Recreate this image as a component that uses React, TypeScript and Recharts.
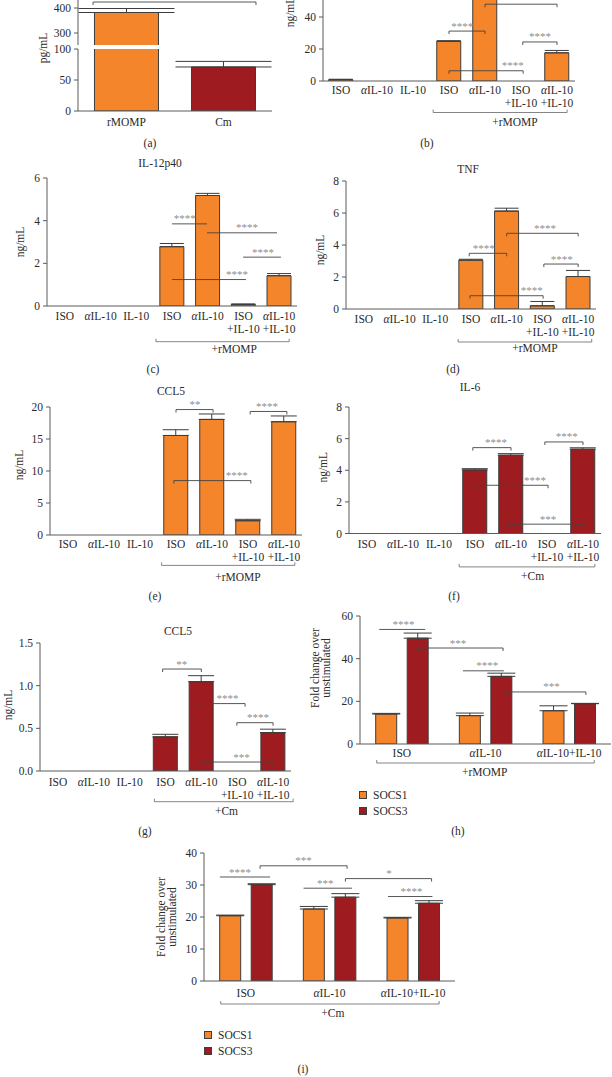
import React from 'react';
import { BarChart, Bar, XAxis, YAxis, ErrorBar, ReferenceLine, ReferenceDot, Legend } from 'recharts';

const FONT = '"Liberation Serif", "DejaVu Serif", serif';
const ORANGE = '#F4852A';
const RED = '#9E1B1F';
const EDGE = '#3d3d3d';
const AXIS = '#5a5a5a';
const TXT = '#2b2b2b';
const STAR = '#8e8e8e';
const FS = 11.5;

// chart frame around each plot area
const YW = 60;
const MT = 30;
const MR = 12;
const XH = 50;

// ---- categories ----
const catsA = ['rMOMP', 'Cm'];
const cats7 = ['ISO', 'αIL-10', 'IL-10', 'ISO', 'αIL-10', 'ISO\n+IL-10', 'αIL-10\n+IL-10'];
const cats3 = ['ISO', 'αIL-10', 'αIL-10+IL-10'];

// ---- values (mean, upper error) ----
const aVals = [382, 71];
const aErr = [16, 9];
const bVals = [0.8, null, null, 24.8, 54, null, 17.6];
const bErr = [0.3, null, null, 0.4, 2, null, 1.5];
const cVals = [null, null, null, 2.78, 5.18, 0.07, 1.42];
const cErr = [null, null, null, 0.15, 0.1, 0.03, 0.1];
const dVals = [null, null, null, 3.05, 6.12, 0.2, 2.03];
const dErr = [null, null, null, 0.06, 0.18, 0.27, 0.38];
const eVals = [null, null, null, 15.55, 18.06, 2.23, 17.7];
const eErr = [null, null, null, 0.9, 0.85, 0.22, 0.9];
const fVals = [null, null, null, 4.02, 4.95, null, 5.33];
const fErr = [null, null, null, 0.08, 0.1, null, 0.09];
const gVals = [null, null, null, 0.4, 1.047, null, 0.45];
const gErr = [null, null, null, 0.03, 0.07, null, 0.04];
const hSocs1 = [14.05, 13.3, 15.6];
const hSocs1Err = [0.3, 1.2, 2.3];
const hSocs3 = [49.6, 31.7, 18.9];
const hSocs3Err = [2.4, 1.5, 0.15];
const iSocs1 = [20.4, 22.5, 19.7];
const iSocs1Err = [0.2, 0.8, 0.2];
const iSocs3 = [30.1, 26.2, 24.3];
const iSocs3Err = [0.3, 1.1, 0.8];

type Br = { x1: number; x2: number; y: number; s: string; lx: number; tk: boolean };
type Grp = { x1: number; x2: number; s: string; lx: number };
const br = (x1: number, x2: number, y: number, s: string, lx: number, tk = true): Br => ({ x1, x2, y, s, lx, tk });

// ---- significance brackets (x in category index units) ----
const aBr = [br(-0.345, 1.335, 424, '')];
const bBr = [br(3, 4, 31.2, '****', 3.37), br(4, 6, 48, '****', 5.2), br(5.05, 6, 24.4, '****', 5.53), br(3, 5.06, 6.4, '****', 4.77)];
const cBr = [br(3, 3.98, 3.85, '****', 3.36, false), br(3.98, 5.94, 3.43, '****', 5.1, false), br(4.99, 6.05, 2.29, '****', 5.55, false), br(3, 5.07, 1.24, '****', 4.82, false)];
const dBr = [br(2.95, 4, 3.48, '****', 3.36), br(4, 6, 4.73, '****', 5.07), br(5.04, 6, 2.81, '****', 5.54), br(2.97, 5.02, 0.83, '****', 4.7)];
const eBr = [br(3, 4.03, 19.6, '**', 3.53), br(5.06, 6.08, 19.3, '****', 5.53), br(2.94, 5.08, 8.5, '****', 4.69)];
const fBr = [br(2.94, 4, 5.43, '****', 3.58), br(4.94, 6, 5.79, '****', 5.55), br(2.97, 5.03, 3.05, '****', 4.67), br(3.92, 6, 0.59, '***', 5.03)];
const gBr = [br(2.92, 4, 1.195, '**', 3.45), br(3.9, 5.22, 0.79, '****', 4.73), br(4.99, 6, 0.566, '****', 5.58), br(3.99, 6, 0.105, '***', 5.12)];
const hBr = [br(-0.27, 0.28, 53.7, '****', 0.02, false), br(0.2, 1.21, 45, '***', 0.67), br(0.73, 1.22, 34.3, '****', 1.02, false), br(1.25, 2.2, 24.4, '***', 1.79)];
const iBr = [br(-0.31, 0.29, 32.5, '****', -0.07, false), br(0.17, 1.21, 36, '***', 0.69), br(0.69, 1.27, 29, '***', 0.95, false), br(1.19, 2.22, 32, '*', 1.71), br(1.7, 2.23, 26.4, '****', 1.98, false)];

// ---- treatment groups under the axis ----
const bGrp: Grp = { x1: 2.56, x2: 6.28, s: '+rMOMP', lx: 4.83 };
const cGrp: Grp = { x1: 2.55, x2: 6.28, s: '+rMOMP', lx: 4.74 };
const dGrp: Grp = { x1: 2.64, x2: 6.38, s: '+rMOMP', lx: 4.79 };
const eGrp: Grp = { x1: 2.6, x2: 6.3, s: '+rMOMP', lx: 4.72 };
const fGrp: Grp = { x1: 2.56, x2: 6.33, s: '+Cm', lx: 4.6 };
const gGrp: Grp = { x1: 2.69, x2: 6.56, s: '+Cm', lx: 4.7 };
const hGrp: Grp = { x1: -0.3, x2: 2.3, s: '+rMOMP', lx: 0.99 };
const iGrp: Grp = { x1: -0.3, x2: 2.31, s: '+Cm', lx: 1.04 };

type Series = { key: string; name: string; color: string; vals: (number | null)[]; err: (number | null)[] };
type Box = { x: number; y: number; w: number; h: number };

const rich = (s: string) =>
  s.startsWith('α') ? [<tspan key="a" fontStyle="italic">α</tspan>, s.slice(1)] : s;

function CatTick(props: any) {
  const { x, y, payload, labels, dy } = props;
  const i = Number(String(payload.value).slice(1));
  const lines = String(labels[i] ?? '').split('\n');
  return (
    <text x={x} y={y + dy + 4} textAnchor="middle" fontSize={FS} fontFamily={FONT} fill={TXT}>
      {lines.map((l, j) => (
        <tspan key={j} x={x} dy={j === 0 ? 0 : 13}>
          {rich(l)}
        </tspan>
      ))}
    </text>
  );
}

function YLab({ vb, lines, dist, dy }: { vb: any; lines: string[]; dist: number; dy: number }) {
  if (!vb) return null;
  const cx = vb.x + vb.width - dist;
  const cy = vb.y + vb.height / 2 + dy;
  const first = -((lines.length - 1) * 11) / 2;
  return (
    <text transform={`rotate(-90 ${cx} ${cy})`} x={cx} y={cy} textAnchor="middle" fontSize={FS} fontFamily={FONT} fill={TXT}>
      {lines.map((l, j) => (
        <tspan key={j} x={cx} dy={j === 0 ? first + 4 : 11}>
          {l}
        </tspan>
      ))}
    </text>
  );
}

function LegendBox({ series }: { series: Series[] }) {
  return (
    <div style={{ fontFamily: FONT, fontSize: FS, color: TXT }}>
      {series.map((s) => (
        <div key={s.key} style={{ display: 'flex', alignItems: 'center', height: 16 }}>
          <span style={{ display: 'inline-block', width: 6, height: 6, background: s.color, border: `1px solid ${EDGE}`, marginRight: 6 }} />
          <span>{s.name}</span>
        </div>
      ))}
    </div>
  );
}

type PanelProps = {
  box: Box;
  dom: [number, number];
  ticks: number[];
  cats: string[];
  series: Series[];
  catGap: string;
  barGap?: number;
  capW: number;
  brs: Br[];
  grp?: Grp;
  grpDy?: number;
  grpLy?: number;
  xdy?: number;
  ylab?: string[];
  ydist?: number;
  ydy?: number;
  fmt?: (v: number) => string;
  legend?: { left: number; top: number };
};

function Panel(p: PanelProps) {
  const ppu = p.box.h / (p.dom[1] - p.dom[0]);
  const u = (px: number) => px / ppu;
  const base = p.dom[0];
  const n = p.cats.length;
  const data = p.cats.map((_, i) => {
    const row: Record<string, any> = { k: 'k' + i, i };
    p.series.forEach((s) => {
      row[s.key] = s.vals[i];
      const e = s.err[i];
      row[s.key + 'E'] = e == null ? null : [0, e];
    });
    return row;
  });

  const seg = (key: string, x1: number, y1: number, x2: number, y2: number, stroke = '#444', w = 0.9) => (
    <ReferenceLine key={key} xAxisId="n" segment={[{ x: x1, y: y1 }, { x: x2, y: y2 }]} stroke={stroke} strokeWidth={w} ifOverflow="visible" />
  );
  const refs: React.ReactNode[] = [];
  p.brs.forEach((b, i) => {
    refs.push(seg('h' + i, b.x1, b.y, b.x2, b.y));
    if (b.tk) {
      refs.push(seg('l' + i, b.x1, b.y, b.x1, b.y - u(3)));
      refs.push(seg('r' + i, b.x2, b.y, b.x2, b.y - u(3)));
    }
    if (b.s)
      refs.push(
        <ReferenceDot
          key={'s' + i}
          xAxisId="n"
          x={b.lx}
          y={b.y}
          r={1}
          ifOverflow="visible"
          shape={(sp: any) => (
            <text x={sp.cx} y={sp.cy - 1.5} textAnchor="middle" fontSize={11} fontFamily={FONT} fill={STAR}>
              {b.s}
            </text>
          )}
        />,
      );
  });
  if (p.grp) {
    const g = p.grp;
    const gy = base - u(p.grpDy ?? 30);
    refs.push(seg('g', g.x1, gy, g.x2, gy, '#666', 0.8));
    refs.push(seg('gl', g.x1, gy, g.x1, gy + u(3), '#666', 0.8));
    refs.push(seg('gr', g.x2, gy, g.x2, gy + u(3), '#666', 0.8));
    refs.push(
      <ReferenceDot
        key="gt"
        xAxisId="n"
        x={g.lx}
        y={base - u(p.grpLy ?? 40)}
        r={1}
        ifOverflow="visible"
        shape={(sp: any) => (
          <text x={sp.cx} y={sp.cy + 4} textAnchor="middle" fontSize={FS} fontFamily={FONT} fill={TXT}>
            {g.s}
          </text>
        )}
      />,
    );
  }

  return (
    <div style={{ position: 'absolute', left: p.box.x - YW, top: p.box.y - MT }}>
      <BarChart
        width={YW + p.box.w + MR}
        height={MT + p.box.h + XH}
        data={data}
        margin={{ top: MT, right: MR, left: 0, bottom: 0 }}
        barCategoryGap={p.catGap}
        barGap={p.barGap ?? 4}
      >
        <XAxis
          xAxisId="c"
          dataKey="k"
          height={XH}
          interval={0}
          axisLine={{ stroke: AXIS }}
          tickLine={false}
          tickSize={0}
          tickMargin={0}
          tick={<CatTick labels={p.cats} dy={p.xdy ?? 10} />}
        />
        <XAxis xAxisId="n" dataKey="i" type="number" domain={[-0.5, n - 0.5]} hide allowDataOverflow />
        <YAxis
          width={YW}
          domain={p.dom}
          ticks={p.ticks}
          allowDataOverflow
          interval={0}
          tickFormatter={p.fmt}
          axisLine={{ stroke: AXIS }}
          tickLine={{ stroke: AXIS }}
          tickSize={4}
          tickMargin={3}
          tick={{ fontSize: FS, fontFamily: FONT, fill: TXT }}
          label={p.ylab ? { content: (lp: any) => <YLab vb={lp.viewBox} lines={p.ylab!} dist={p.ydist ?? 30} dy={p.ydy ?? 0} /> } : undefined}
        />
        {p.series.map((s) => (
          <Bar key={s.key} xAxisId="c" dataKey={s.key} name={s.name} fill={s.color} stroke={EDGE} strokeWidth={1} isAnimationActive={false}>
            <ErrorBar dataKey={s.key + 'E'} width={p.capW} stroke={EDGE} strokeWidth={1} isAnimationActive={false} />
          </Bar>
        ))}
        {refs}
        {p.legend && (
          <Legend
            layout="vertical"
            align="center"
            verticalAlign="middle"
            wrapperStyle={{ left: p.legend.left, top: p.legend.top, width: 'auto', height: 'auto', right: 'auto', bottom: 'auto' }}
            content={() => <LegendBox series={p.series} />}
          />
        )}
      </BarChart>
    </div>
  );
}

const one = (color: string, vals: (number | null)[], err: (number | null)[]): Series[] => [
  { key: 'v', name: 'v', color, vals, err },
];
const two = (s1: number[], e1: number[], s3: number[], e3: number[]): Series[] => [
  { key: 's1', name: 'SOCS1', color: ORANGE, vals: s1, err: e1 },
  { key: 's3', name: 'SOCS3', color: RED, vals: s3, err: e3 },
];

const pageTexts = [
  { t: '(a)', x: 150, y: 144 },
  { t: '(b)', x: 427, y: 144 },
  { t: 'IL-12p40', x: 160, y: 164 },
  { t: 'TNF', x: 468, y: 170 },
  { t: '(c)', x: 153, y: 370 },
  { t: '(d)', x: 453, y: 370 },
  { t: 'CCL5', x: 171, y: 392 },
  { t: 'IL-6', x: 470, y: 388 },
  { t: '(e)', x: 155, y: 597 },
  { t: '(f)', x: 454, y: 597 },
  { t: 'CCL5', x: 178, y: 632 },
  { t: '(g)', x: 145, y: 832 },
  { t: '(h)', x: 458, y: 832 },
  { t: '(i)', x: 303, y: 1070 },
];

const A_UP: [number, number] = [252, 472];
const A_LO: [number, number] = [0, 100];
const aColors = [ORANGE, RED];

export default function App() {
  // panel (a) has a broken axis: the upper part keeps only bars that reach it
  const aUpVals = aVals.map((v) => (v > A_UP[0] ? v : null));
  const aUpErr = aErr.map((e, i) => (aVals[i] > A_UP[0] ? e : null));
  const aLoErr = aErr.map((e, i) => (aVals[i] > A_LO[1] ? null : e));
  return (
    <div style={{ position: 'absolute', left: 0, top: 0, width: 612, height: 1077, overflow: 'hidden', background: '#fff' }}>
      <style>{`.recharts-surface{overflow:visible}`}</style>
      <PanelA box={{ x: 78, y: -10, w: 194, h: 55 }} dom={A_UP} ticks={[300, 400]} vals={aUpVals} err={aUpErr} upper brs={aBr} />
      <PanelA box={{ x: 78, y: 49, w: 194, h: 62 }} dom={A_LO} ticks={[0, 50, 100]} vals={aVals} err={aLoErr} brs={[]} />
      <Panel box={{ x: 323, y: -15, w: 252, h: 96 }} dom={[0, 60]} ticks={[0, 20, 40, 60]} cats={cats7} series={one(ORANGE, bVals, bErr)} catGap="16%" capW={12} brs={bBr} grp={bGrp} grpDy={31.5} grpLy={41} xdy={9} ylab={['ng/mL']} ydist={33} ydy={-21} />
      <Panel box={{ x: 47, y: 178, w: 250, h: 128 }} dom={[0, 6]} ticks={[0, 2, 4, 6]} cats={cats7} series={one(ORANGE, cVals, cErr)} catGap="16%" capW={12} brs={cBr} grp={cGrp} grpDy={35.7} grpLy={43} ylab={['ng/mL']} ydist={27} />
      <Panel box={{ x: 346, y: 181, w: 250, h: 128 }} dom={[0, 8]} ticks={[0, 2, 4, 6, 8]} cats={cats7} series={one(ORANGE, dVals, dErr)} catGap="16%" capW={12} brs={dBr} grp={dGrp} grpDy={33} grpLy={39} ylab={['ng/mL']} ydist={26} ydy={5} />
      <Panel box={{ x: 50, y: 407, w: 252, h: 128 }} dom={[0, 20]} ticks={[0, 5, 10, 15, 20]} cats={cats7} series={one(ORANGE, eVals, eErr)} catGap="16%" capW={13} brs={eBr} grp={eGrp} grpDy={30.4} grpLy={42.4} xdy={8.5} ylab={['ng/mL']} ydist={31} ydy={-6} />
      <Panel box={{ x: 349, y: 407, w: 252, h: 126.5 }} dom={[0, 8]} ticks={[0, 2, 4, 6, 8]} cats={cats7} series={one(RED, fVals, fErr)} catGap="16%" capW={13} brs={fBr} grp={fGrp} grpDy={33.4} grpLy={42.7} ylab={['ng/mL']} ydist={26} ydy={-3} />
      <Panel box={{ x: 40, y: 643, w: 251, h: 128 }} dom={[0, 1.5]} ticks={[0, 0.5, 1, 1.5]} fmt={(v) => v.toFixed(1)} cats={cats7} series={one(RED, gVals, gErr)} catGap="16%" capW={13} brs={gBr} grp={gGrp} grpDy={30.7} grpLy={39.7} xdy={11} ylab={['ng/mL']} ydist={32} ydy={-2} />
      <Panel box={{ x: 360, y: 616, w: 251, h: 128 }} dom={[0, 60]} ticks={[0, 20, 40, 60]} cats={cats3} series={two(hSocs1, hSocs1Err, hSocs3, hSocs3Err)} catGap="18.75%" barGap={10.5} capW={14} brs={hBr} grp={hGrp} grpDy={19} grpLy={28} xdy={9} ylab={['Fold change over', 'unstimulated']} ydist={39.5} ydy={-12} legend={{ left: 59, top: 201 }} />
      <Panel box={{ x: 204, y: 853, w: 251, h: 128 }} dom={[0, 40]} ticks={[0, 10, 20, 30, 40]} cats={cats3} series={two(iSocs1, iSocs1Err, iSocs3, iSocs3Err)} catGap="18.75%" barGap={10.5} capW={14} brs={iBr} grp={iGrp} grpDy={23} grpLy={31.7} xdy={12} ylab={['Fold change over', 'unstimulated']} ydist={37.3} legend={{ left: 60, top: 204 }} />
      {pageTexts.map((t, i) => (
        <div key={i} style={{ position: 'absolute', left: t.x, top: t.y, transform: 'translate(-50%, -50%)', fontFamily: FONT, fontSize: FS, color: TXT, whiteSpace: 'nowrap', lineHeight: 1 }}>
          {t.t}
        </div>
      ))}
    </div>
  );
}

// one half of panel (a); each category keeps its own colour, and no edge is drawn where the axis breaks
function PanelA({ box, dom, ticks, vals, err, upper, brs }: { box: Box; dom: [number, number]; ticks: number[]; vals: (number | null)[]; err: (number | null)[]; upper?: boolean; brs: Br[] }) {
  const ppu = box.h / (dom[1] - dom[0]);
  const u = (px: number) => px / ppu;
  const data = catsA.map((_, i) => ({ k: 'k' + i, i, v: vals[i], vE: err[i] == null ? null : [0, err[i]] }));
  const refs: React.ReactNode[] = [];
  brs.forEach((b, i) => {
    refs.push(<ReferenceLine key={'h' + i} xAxisId="n" segment={[{ x: b.x1, y: b.y }, { x: b.x2, y: b.y }]} stroke="#444" strokeWidth={0.9} ifOverflow="visible" />);
    refs.push(<ReferenceLine key={'l' + i} xAxisId="n" segment={[{ x: b.x1, y: b.y }, { x: b.x1, y: b.y - u(3) }]} stroke="#444" strokeWidth={0.9} ifOverflow="visible" />);
    refs.push(<ReferenceLine key={'r' + i} xAxisId="n" segment={[{ x: b.x2, y: b.y }, { x: b.x2, y: b.y - u(3) }]} stroke="#444" strokeWidth={0.9} ifOverflow="visible" />);
  });
  return (
    <div style={{ position: 'absolute', left: box.x - YW, top: box.y - MT }}>
      <BarChart width={YW + box.w + MR} height={MT + box.h + XH} data={data} margin={{ top: MT, right: MR, left: 0, bottom: upper ? XH : 0 }} barCategoryGap="17%">
        <XAxis xAxisId="c" dataKey="k" height={XH} hide={upper} interval={0} axisLine={{ stroke: AXIS }} tickLine={false} tickSize={0} tickMargin={0} tick={<CatTick labels={catsA} dy={11} />} />
        <XAxis xAxisId="n" dataKey="i" type="number" domain={[-0.5, 1.5]} hide allowDataOverflow />
        <YAxis
          width={YW}
          domain={dom}
          ticks={ticks}
          allowDataOverflow
          interval={0}
          axisLine={{ stroke: AXIS }}
          tickLine={{ stroke: AXIS }}
          tickSize={4}
          tickMargin={3}
          tick={{ fontSize: FS, fontFamily: FONT, fill: TXT }}
          label={upper ? undefined : { content: (lp: any) => <YLab vb={lp.viewBox} lines={['pg/mL']} dist={35} dy={-32} /> }}
        />
        <Bar
          xAxisId="c"
          dataKey="v"
          stroke={EDGE}
          strokeWidth={1}
          isAnimationActive={false}
          shape={(bp: any) => {
            const { x, width, index } = bp;
            const v = vals[index];
            if (v == null || !bp.height) return <g />;
            const broken = !upper && v > dom[1];
            const top = broken ? Math.max(bp.y, MT) : bp.y;
            const bottom = bp.y + bp.height;
            const edges = [
              `M${x},${bottom}L${x},${top}`,
              `M${x + width},${top}L${x + width},${bottom}`,
              broken ? '' : `M${x},${top}L${x + width},${top}`,
              upper ? '' : `M${x},${bottom}L${x + width},${bottom}`,
            ].join('');
            return (
              <g>
                <rect x={x} y={top} width={width} height={bottom - top} fill={aColors[index] ?? ORANGE} />
                <path d={edges} stroke={EDGE} strokeWidth={1} fill="none" />
              </g>
            );
          }}
        >
          <ErrorBar dataKey="vE" width={48} stroke={EDGE} strokeWidth={1} isAnimationActive={false} />
        </Bar>
        {refs}
      </BarChart>
    </div>
  );
}
